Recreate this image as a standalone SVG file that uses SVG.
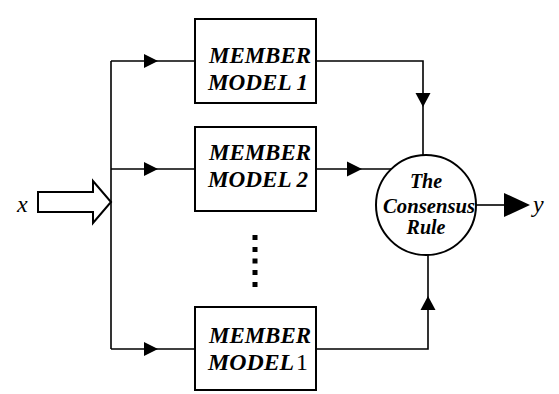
<svg xmlns="http://www.w3.org/2000/svg" width="559" height="394" viewBox="0 0 559 394">
<style>
.ln{fill:none;stroke:#000;stroke-width:1.6}
.box{fill:#fff;stroke:#000;stroke-width:2}
.ah{fill:#000;stroke:none}
.t{font-family:"Liberation Serif","Times New Roman",serif;font-weight:bold;font-style:italic;fill:#000}
</style>
<rect width="559" height="394" fill="#fff"/>
<g id="connectors">
<polyline class="ln" points="111,61 111,349"/>
<line class="ln" x1="111" y1="61" x2="195" y2="61"/>
<line class="ln" x1="111" y1="169" x2="195" y2="169"/>
<line class="ln" x1="111" y1="349" x2="195" y2="349"/>
<polygon class="ah" points="158,61 144,54 144,68"/>
<polygon class="ah" points="158,169 144,162 144,176"/>
<polygon class="ah" points="158,349 144,342 144,356"/>
<polyline class="ln" points="316,61 423,61 423,156"/>
<polygon class="ah" points="423,107 415.5,93 430.5,93"/>
<line class="ln" x1="316" y1="169" x2="392" y2="169"/>
<polygon class="ah" points="362,169 347,161.5 347,176.5"/>
<polyline class="ln" points="316,349 428,349 428,254"/>
<polygon class="ah" points="428,296 420.5,310 435.5,310"/>
<line class="ln" x1="476" y1="205" x2="506" y2="205"/>
<polygon class="ah" points="530,205 504,193 504,217"/>
</g>
<g id="input">
<polygon fill="#fff" stroke="#000" stroke-width="2" points="38,192 93,192 93,181 111,202 93,223 93,212 38,212"/>
<text x="17" y="212" font-family="'Liberation Serif',serif" font-style="italic" font-size="24">x</text>
</g>
<g id="member1">
<rect class="box" x="195" y="19" width="121" height="84"/>
<text class="t" x="209" y="63" font-size="24" textLength="102" lengthAdjust="spacingAndGlyphs">MEMBER</text>
<text class="t" x="208" y="90" font-size="24" textLength="100" lengthAdjust="spacingAndGlyphs">MODEL 1</text>
</g>
<g id="member2">
<rect class="box" x="195" y="127" width="121" height="84"/>
<text class="t" x="209" y="160" font-size="24" textLength="102" lengthAdjust="spacingAndGlyphs">MEMBER</text>
<text class="t" x="208" y="187" font-size="24" textLength="100" lengthAdjust="spacingAndGlyphs">MODEL 2</text>
</g>
<g id="dots">
<rect x="252.5" y="235" width="5" height="5"/>
<rect x="252.5" y="247" width="5" height="5"/>
<rect x="252.5" y="258.5" width="5" height="5"/>
<rect x="252.5" y="270" width="5" height="5"/>
<rect x="252.5" y="282" width="5" height="5"/>
</g>
<g id="memberN">
<rect class="box" x="195" y="307" width="121" height="83"/>
<text class="t" x="209" y="343" font-size="24" textLength="102" lengthAdjust="spacingAndGlyphs">MEMBER</text>
<text class="t" x="208" y="370" font-size="24" textLength="100" lengthAdjust="spacingAndGlyphs">MODEL<tspan dx="2" font-weight="normal" font-style="normal">1</tspan></text>
</g>
<g id="consensus">
<circle cx="426" cy="205" r="50" fill="#fff" stroke="#000" stroke-width="2"/>
<text class="t" x="426" y="188" font-size="20" text-anchor="middle">The</text>
<text class="t" x="429" y="213" font-size="20" text-anchor="middle" textLength="92" lengthAdjust="spacingAndGlyphs">Consensus</text>
<text class="t" x="426" y="234" font-size="20" text-anchor="middle">Rule</text>
</g>
<g id="output">
<text x="533" y="212" font-family="'Liberation Serif',serif" font-style="italic" font-size="24">y</text>
</g>
</svg>
